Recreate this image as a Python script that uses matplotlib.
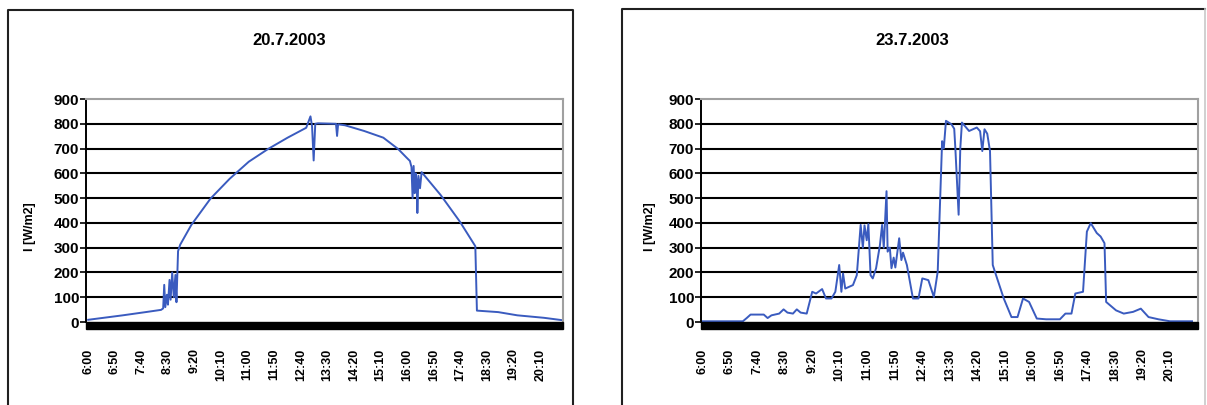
import numpy as np
import matplotlib.pyplot as plt
from matplotlib.patches import Rectangle
from matplotlib.lines import Line2D

plt.rcParams['font.family'] = ['Liberation Sans', 'DejaVu Sans']

# irradiance on 20.7.2003 (clock time, W/m2)
t_207 = ["6:00", "6:29", "7:05", "7:48", "8:17", "8:21", "8:23", "8:25", "8:28", "8:30",
         "8:33", "8:35", "8:38", "8:41", "8:44", "8:46", "8:49", "8:53", "9:14", "9:50",
         "10:26", "11:02", "11:38", "12:15", "12:50", "12:58", "13:01", "13:04", "13:07", "13:12",
         "13:46", "13:48", "13:50", "14:03", "14:39", "15:15", "15:43", "15:58", "16:05", "16:08",
         "16:10", "16:12", "16:14", "16:16", "16:18", "16:19", "16:21", "16:24", "16:27", "17:03",
         "17:39", "18:08", "18:11", "18:51", "19:27", "20:17", "20:53"]
i_207 = [9, 17, 27, 40, 49, 55, 150, 60, 110, 70,
         170, 90, 200, 100, 190, 80, 286, 312, 392, 498,
         578, 647, 698, 744, 784, 830, 790, 652, 800, 802,
         800, 751, 798, 794, 771, 744, 698, 665, 650, 625,
         500, 630, 520, 600, 560, 440, 590, 540, 605, 512,
         405, 306, 46, 40, 27, 17, 7]

# irradiance on 23.7.2003
t_237 = ["6:00", "7:14", "7:21", "7:28", "7:52", "7:59", "8:06", "8:20", "8:28", "8:35",
         "8:45", "8:52", "8:59", "9:10", "9:20", "9:27", "9:38", "9:45", "9:55", "10:02",
         "10:09", "10:13", "10:16", "10:20", "10:34", "10:41", "10:48", "10:52", "10:55", "10:59",
         "11:02", "11:06", "11:10", "11:16", "11:23", "11:27", "11:30", "11:35", "11:37", "11:41",
         "11:44", "11:48", "11:51", "11:58", "12:02", "12:05", "12:12", "12:23", "12:33", "12:40",
         "12:51", "13:01", "13:08", "13:16", "13:19", "13:23", "13:33", "13:38", "13:40", "13:46",
         "13:49", "13:52", "14:05", "14:19", "14:25", "14:29", "14:33", "14:38", "14:43", "14:48",
         "14:54", "15:08", "15:22", "15:33", "15:43", "15:54", "16:08", "16:25", "16:50", "17:00",
         "17:11", "17:18", "17:32", "17:39", "17:46", "17:57", "18:04", "18:11", "18:14", "18:32",
         "18:46", "19:03", "19:17", "19:31", "19:49", "20:10", "20:50"]
i_237 = [3, 3, 16, 30, 30, 16, 27, 34, 51, 38,
         34, 51, 38, 34, 122, 115, 133, 95, 95, 122,
         230, 122, 196, 135, 149, 189, 392, 300, 390, 330,
         395, 189, 176, 217, 310, 392, 300, 528, 284, 300,
         217, 260, 220, 338, 250, 280, 230, 95, 95, 176,
         169, 101, 203, 730, 700, 812, 798, 780, 703, 433,
         700, 805, 771, 785, 770, 690, 778, 760, 690, 230,
         189, 95, 20, 20, 95, 81, 14, 11, 11, 34,
         34, 115, 122, 365, 399, 359, 345, 318, 81, 47,
         34, 41, 54, 20, 11, 3, 3]

tick_labels = ["6:00", "6:50", "7:40", "8:30", "9:20", "10:10", "11:00", "11:50", "12:40",
               "13:30", "14:20", "15:10", "16:00", "16:50", "17:40", "18:30", "19:20", "20:10"]


def to_min(s):
    h, m = s.split(":")
    return int(h) * 60 + int(m)


fig = plt.figure(figsize=(12.07, 4.05), dpi=100)

panels = [
    ("20.7.2003", t_207, i_207, [0.0713, 0.2049, 0.3952, 0.5506], (356, 1253), 0.240, -0.105),
    ("23.7.2003", t_237, i_237, [0.5808, 0.2049, 0.4118, 0.5506], (358, 1261), 0.756, -0.090),
]

for title, t, vals, rect, xlim, tx, lx in panels:
    ax = fig.add_axes(rect)
    ax.plot([to_min(s) for s in t], vals, color='#3a5bbf', lw=1.4)
    ax.set_xlim(*xlim)
    ax.set_ylim(0, 900)
    ax.set_yticks(range(0, 1000, 100))
    ax.set_yticklabels([str(v) for v in range(0, 1000, 100)], fontsize=11, fontweight='bold')
    ax.set_xticks([to_min(s) for s in tick_labels])
    ax.set_xticklabels(tick_labels, rotation=90, fontsize=9, fontweight='bold', va='top')
    ax.tick_params(axis='x', length=0, pad=19)
    ax.tick_params(axis='y', length=4, width=1.2, pad=1, direction='out')
    for v in range(100, 900, 100):
        ax.axhline(v, color='black', lw=1.5, zorder=0)
    ax.spines['left'].set_color('black')
    ax.spines['left'].set_linewidth(1.4)
    for side in ('top', 'right'):
        ax.spines[side].set_color('#a0a0a0')
        ax.spines[side].set_linewidth(1.5)
    ax.spines['bottom'].set_visible(False)
    # thick black category axis under the plot area
    ax.add_patch(Rectangle((0, -0.032), 1, 0.032, transform=ax.transAxes,
                           color='black', clip_on=False, zorder=3))
    ax.set_ylabel("I [W/m2]", fontsize=9, fontweight='bold')
    ax.yaxis.set_label_coords(lx, 0.43)
    fig.text(tx, 0.901, title, ha='center', va='center', fontsize=12, fontweight='bold')

# frames around the two charts
fig.add_artist(Line2D([0.0066, 0.0066, 0.4747, 0.4747], [-0.1, 0.975, 0.975, -0.1],
                      transform=fig.transFigure, color='#202020', lw=1.5))
fig.add_artist(Line2D([0.5153, 0.5153, 0.9985], [-0.1, 0.978, 0.978],
                      transform=fig.transFigure, color='#202020', lw=1.5))
fig.add_artist(Line2D([0.9985, 0.9985], [0.978, -0.1],
                      transform=fig.transFigure, color='#c8c8c8', lw=1.2))

fig.savefig("out.png", dpi=100)
